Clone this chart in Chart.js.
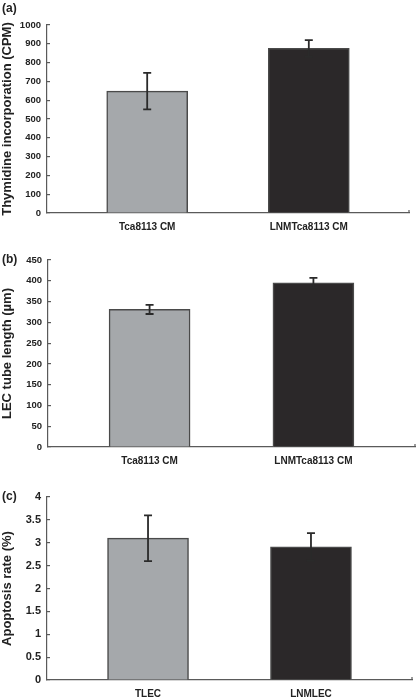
<!DOCTYPE html>
<html>
<head>
<meta charset="utf-8">
<script src="https://cdn.jsdelivr.net/npm/chart.js@4.4.1/dist/chart.umd.min.js"></script>
<style>
  html, body { margin: 0; padding: 0; background: #ffffff; }
  canvas { display: block; }
</style>
</head>
<body>
<canvas id="chartA" width="417" height="233"></canvas>
<canvas id="chartB" width="417" height="232"></canvas>
<canvas id="chartC" width="417" height="235"></canvas>
<script>
// data
const groupsAB = ['Tca8113 CM', 'LNMTca8113 CM'];
const groupsC = ['TLEC', 'LNMLEC'];

const thymidineMean = [648, 876];
const thymidineErr = [97, 44];

const tubeMean = [331, 395];
const tubeErr = [11, 12];

const apoptosisMean = [3.1, 2.91];
const apoptosisErr = [0.5, 0.3];

const barColors = ['#a5a8ab', '#2b2829'];
const inkColor = '#222222';
const axisColor = '#5a5a5a';
const fontFamily = '"Liberation Sans", Arial, sans-serif';

const errorBarPlugin = {
    id: 'errorBars',
    afterDatasetsDraw(chart, args, opts) {
        const ctx = chart.ctx;
        const yScale = chart.scales.y;
        const meta = chart.getDatasetMeta(0);
        ctx.save();
        ctx.strokeStyle = opts.color;
        ctx.lineWidth = 1.8;
        meta.data.forEach((bar, i) => {
            const v = opts.means[i];
            const e = opts.errors[i];
            const yHi = yScale.getPixelForValue(v + e);
            const yLo = yScale.getPixelForValue(v - e);
            ctx.beginPath();
            ctx.moveTo(bar.x, yHi);
            ctx.lineTo(bar.x, yLo);
            ctx.moveTo(bar.x - 4, yHi);
            ctx.lineTo(bar.x + 4, yHi);
            ctx.moveTo(bar.x - 4, yLo);
            ctx.lineTo(bar.x + 4, yLo);
            ctx.stroke();
        });
        ctx.restore();
    }
};

const panelPlugin = {
    id: 'panelLabel',
    afterDraw(chart, args, opts) {
        const ctx = chart.ctx;
        const x = chart.scales.x;
        ctx.save();
        // small tick at the right end of the x axis
        ctx.strokeStyle = axisColor;
        ctx.lineWidth = 1.2;
        ctx.beginPath();
        ctx.moveTo(x.right, x.top);
        ctx.lineTo(x.right, x.top - 3);
        ctx.stroke();
        // panel letter
        ctx.fillStyle = inkColor;
        ctx.font = 'bold 12px ' + fontFamily;
        ctx.textBaseline = 'middle';
        ctx.textAlign = 'left';
        ctx.fillText(opts.text, 2, opts.y);
        ctx.restore();
    }
};

function makeChart(id, cfg) {
    const ctx = document.getElementById(id).getContext('2d');
    return new Chart(ctx, {
        type: 'bar',
        data: {
            datasets: [{
                data: cfg.groups.map((g, i) => ({ x: i, y: cfg.means[i] })),
                backgroundColor: barColors,
                borderColor: '#4a4a4a',
                borderWidth: 1.5,
                barThickness: 81
            }]
        },
        options: {
            responsive: false,
            animation: false,
            layout: {
                padding: { top: cfg.top, right: cfg.right, left: 0, bottom: 0 }
            },
            plugins: {
                legend: { display: false },
                tooltip: { enabled: false },
                errorBars: { means: cfg.means, errors: cfg.errors, color: '#2a2a2a' },
                panelLabel: { text: cfg.label, y: cfg.labelY }
            },
            scales: {
                x: {
                    type: 'linear',
                    offset: false,
                    min: -0.62,
                    max: 1.62,
                    afterBuildTicks: s => { s.ticks = cfg.groups.map((g, i) => ({ value: i })); },
                    afterFit: s => { s.height = cfg.xHeight; },
                    grid: { display: true, offset: false, drawOnChartArea: false, drawTicks: false },
                    border: { display: true, color: axisColor, width: 1.2 },
                    ticks: {
                        autoSkip: false,
                        maxRotation: 0,
                        padding: 8,
                        color: inkColor,
                        font: { family: fontFamily, size: 10, weight: 'bold' },
                        callback: v => cfg.groups[v]
                    }
                },
                y: {
                    min: 0,
                    max: cfg.yMax,
                    afterFit: s => { s.width = cfg.left; },
                    ticks: {
                        stepSize: cfg.yStep,
                        padding: 9,
                        color: inkColor,
                        font: { family: fontFamily, size: cfg.tickSize, weight: 'bold' },
                        callback: v => String(v)
                    },
                    grid: { drawOnChartArea: false, tickLength: -3, color: axisColor, lineWidth: 1.2 },
                    border: { display: true, color: axisColor, width: 1.2 },
                    title: {
                        display: true,
                        text: cfg.yTitle,
                        color: inkColor,
                        padding: { top: 0, bottom: 0 },
                        font: { family: fontFamily, size: 13, weight: 'bold' }
                    }
                }
            }
        },
        plugins: [errorBarPlugin, panelPlugin]
    });
}

makeChart('chartA', {
    groups: groupsAB, means: thymidineMean, errors: thymidineErr,
    yMax: 1000, yStep: 100, yTitle: 'Thymidine incorporation (CPM)', tickSize: 9.5,
    label: '(a)', labelY: 9, top: 25, right: 8, left: 47, xHeight: 20
});

makeChart('chartB', {
    groups: groupsAB, means: tubeMean, errors: tubeErr,
    yMax: 450, yStep: 50, yTitle: 'LEC tube length (µm)', tickSize: 9.5,
    label: '(b)', labelY: 27, top: 27, right: 2, left: 48, xHeight: 18
});

makeChart('chartC', {
    groups: groupsC, means: apoptosisMean, errors: apoptosisErr,
    yMax: 4, yStep: 0.5, yTitle: 'Apoptosis rate (%)', tickSize: 11,
    label: '(c)', labelY: 32, top: 32, right: 5, left: 47, xHeight: 20
});
</script>
</body>
</html>
